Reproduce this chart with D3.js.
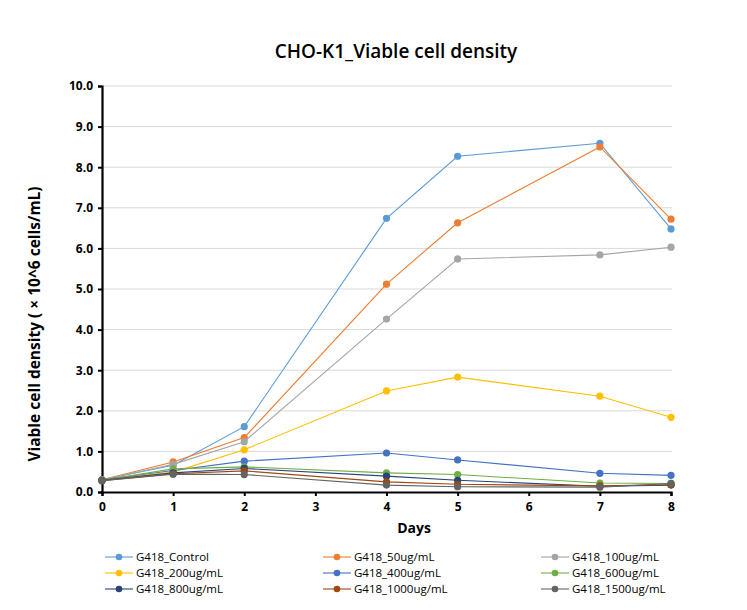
<!DOCTYPE html>
<html><head><meta charset="utf-8">
<script src="https://cdn.jsdelivr.net/npm/d3@7"></script>
<style>body{margin:0;background:#fff;} svg{display:block;font-family:"Open Sans","Noto Sans",sans-serif;}</style>
</head><body>
<script>
const days = [0, 1, 2, 4, 5, 7, 8];
const seriesNames = ["G418_Control","G418_50ug/mL","G418_100ug/mL","G418_200ug/mL","G418_400ug/mL","G418_600ug/mL","G418_800ug/mL","G418_1000ug/mL","G418_1500ug/mL"];
const seriesColors = ["#5B9BD5","#ED7D31","#A5A5A5","#FFC000","#4472C4","#70AD47","#264478","#9E480E","#636363"];
const control = [0.30, 0.66, 1.61, 6.74, 8.27, 8.59, 6.48];
const g50     = [0.30, 0.74, 1.34, 5.12, 6.63, 8.50, 6.72];
const g100    = [0.30, 0.68, 1.24, 4.26, 5.74, 5.84, 6.03];
const g200    = [0.30, 0.49, 1.04, 2.49, 2.83, 2.36, 1.84];
const g400    = [0.30, 0.53, 0.76, 0.96, 0.79, 0.46, 0.41];
const g600    = [0.29, 0.57, 0.62, 0.47, 0.43, 0.22, 0.21];
const g800    = [0.29, 0.47, 0.58, 0.39, 0.29, 0.14, 0.17];
const g1000   = [0.28, 0.45, 0.52, 0.25, 0.19, 0.15, 0.18];
const g1500   = [0.28, 0.44, 0.43, 0.17, 0.13, 0.12, 0.21];
const seriesValues = [control, g50, g100, g200, g400, g600, g800, g1000, g1500];
const yTicks = [0,1,2,3,4,5,6,7,8,9,10];
const xTicks = [0,1,2,3,4,5,6,7,8];

const W = 747, H = 610;
const svg = d3.select("body").append("svg").attr("width", W).attr("height", H);
const x = d3.scaleLinear().domain([0, 8]).range([102, 671]);
const y = d3.scaleLinear().domain([0, 10]).range([492, 86]);

svg.append("text").attr("x", 396).attr("y", 58).attr("text-anchor", "middle")
  .attr("font-size", 19).attr("font-weight", 600).attr("fill", "#000").text("CHO-K1_Viable cell density");

// gridlines
svg.append("g").selectAll("line").data(yTicks.slice(1)).join("line")
  .attr("x1", 102).attr("x2", 672).attr("y1", d => y(d)).attr("y2", d => y(d))
  .attr("stroke", "#d9d9d9").attr("stroke-width", 1);

// y axis
const ya = svg.append("g").attr("transform", "translate(102,0)")
  .call(d3.axisLeft(y).tickValues(yTicks).tickFormat(d3.format(".1f")).tickSize(4).tickPadding(5));
ya.select(".domain").attr("stroke", "#000").attr("stroke-width", 2.2);
ya.selectAll(".tick line").attr("stroke", "#000").attr("stroke-width", 2);
ya.selectAll("text").attr("font-size", 12).attr("font-weight", 700).attr("fill", "#000")
  .attr("font-family", "'Open Sans',sans-serif");

// x axis
const xa = svg.append("g").attr("transform", "translate(0,492)")
  .call(d3.axisBottom(x).tickValues(xTicks).tickFormat(d3.format("d")).tickSize(4).tickPadding(6));
xa.select(".domain").attr("stroke", "#000").attr("stroke-width", 2.2);
xa.selectAll(".tick line").attr("stroke", "#000").attr("stroke-width", 2);
xa.selectAll("text").attr("font-size", 12).attr("font-weight", 700).attr("fill", "#000")
  .attr("font-family", "'Open Sans',sans-serif");

svg.append("text").attr("x", 414).attr("y", 533).attr("text-anchor", "middle")
  .attr("font-size", 14).attr("font-weight", 700).text("Days");
svg.append("text").attr("transform", "translate(40,324) rotate(-90)").attr("text-anchor", "middle")
  .attr("font-size", 15.5).attr("font-weight", 700).text("Viable cell density ( \u00d7 10^6 cells/mL)");

const line = d3.line().x((d, i) => x(days[i])).y(d => y(d));
const g = svg.append("g");
seriesValues.forEach((vals, k) => {
  g.append("path").datum(vals).attr("d", line).attr("fill", "none")
    .attr("stroke", seriesColors[k]).attr("stroke-width", 1.1);
  g.selectAll(null).data(vals).join("circle")
    .attr("cx", (d, i) => x(days[i])).attr("cy", d => y(d)).attr("r", 3.6)
    .attr("fill", seriesColors[k]);
});

// legend
const colX = [105, 323, 541];
const rowY = [557, 573, 589];
seriesNames.forEach((name, k) => {
  const cx = colX[k % 3], cy = rowY[Math.floor(k / 3)];
  const lg = svg.append("g");
  lg.append("line").attr("x1", cx).attr("x2", cx + 28).attr("y1", cy).attr("y2", cy)
    .attr("stroke", seriesColors[k]).attr("stroke-width", 1.1);
  lg.append("circle").attr("cx", cx + 14).attr("cy", cy).attr("r", 3.3).attr("fill", seriesColors[k]);
  lg.append("text").attr("x", cx + 31).attr("y", cy + 4).attr("font-size", 11.5).attr("fill", "#000").text(name);
});
</script>
</body></html>
